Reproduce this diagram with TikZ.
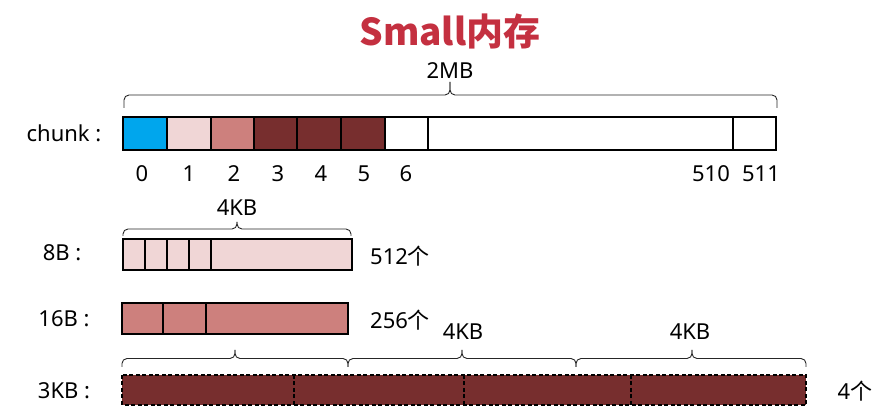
\documentclass[tikz,border=0pt]{standalone}
\usepackage{fontspec}
\setmainfont{Noto Sans}
\newfontfamily\cjk{Noto Sans CJK SC}
\definecolor{biaotihong}{RGB}{196,48,64}
\definecolor{lanse}{RGB}{0,166,237}
\definecolor{qianfen}{RGB}{240,214,214}
\definecolor{meigui}{RGB}{205,128,125}
\definecolor{zaohong}{RGB}{119,46,46}

% 画一个大括号:#1左端,#2右端,#3尖的位置,#4底边,#5尖的高度
\newcommand{\dakuohao}[5]{%
  \draw[kuohao] (#1,#4) -- (#1,{(#4+#5)/2}) -- (#3,{(#4+#5)/2}) -- (#3,#5);
  \draw[kuohao] (#3,#5) -- (#3,{(#4+#5)/2}) -- (#2,{(#4+#5)/2}) -- (#2,#4);}

\begin{document}
\begin{tikzpicture}[x=1pt,y=-1pt,
  kuohao/.style={line width=0.9pt,rounded corners=5pt,color=black!85},
  gezi/.style={draw=black,line width=1.8pt},
  xugezi/.style={draw=black,line width=1.8pt,dash pattern=on 4pt off 2.5pt},
  wenzi/.style={font=\fontsize{22}{24}\selectfont,inner sep=0pt}]

  \useasboundingbox (0,0) rectangle (889,419);

  % 标题
  \node[font=\fontsize{37}{40}\selectfont\cjk\bfseries,color=biaotihong,inner sep=0pt]
    (biaoti) at (450,31) {Small内存};

  % chunk 一行
  \node[wenzi] (chunkming) at (64,133) {chunk :};
  \node[wenzi] (erMB) at (450,71) {2MB};
  \dakuohao{124}{777}{450}{108}{82}

  \draw[gezi,fill=lanse] (123,117) rectangle (167,150);
  \draw[gezi,fill=qianfen] (167,117) rectangle (211,150);
  \draw[gezi,fill=meigui] (211,117) rectangle (254,150);
  \draw[gezi,fill=zaohong] (254,117) rectangle (385,150);
  \draw[gezi] (385,117) rectangle (776,150);
  \draw[gezi] (297,117) -- (297,150);
  \draw[gezi] (341,117) -- (341,150);
  \draw[gezi] (428,117) -- (428,150);
  \draw[gezi] (733,117) -- (733,150);

  % 页号
  \node[wenzi] (ye0) at (142,174) {0};
  \node[wenzi] (ye1) at (189,174) {1};
  \node[wenzi] (ye2) at (234,174) {2};
  \node[wenzi] (ye3) at (278,174) {3};
  \node[wenzi] (ye4) at (321,174) {4};
  \node[wenzi] (ye5) at (364,174) {5};
  \node[wenzi] (ye6) at (406,174) {6};
  \node[wenzi] (ye510) at (711,174) {510};
  \node[wenzi] (ye511) at (761,174) {511};

  % 8B 一行
  \node[wenzi] (baB) at (62,253) {8B :};
  \node[wenzi] (siKBa) at (237,208) {4KB};
  \dakuohao{123}{351}{237}{236}{222}
  \draw[gezi,fill=qianfen] (123,239) rectangle (352,270);
  \draw[gezi] (145,239) -- (145,270);
  \draw[gezi] (167,239) -- (167,270);
  \draw[gezi] (189,239) -- (189,270);
  \draw[gezi] (211,239) -- (211,270);
  \node[wenzi,anchor=west] (geshu512) at (370,256) {512{\cjk 个}};

  % 16B 一行
  \node[wenzi] (shiliuB) at (64,319) {16B :};
  \draw[gezi,fill=meigui] (122,303) rectangle (348,334);
  \draw[gezi] (163,303) -- (163,334);
  \draw[gezi] (206,303) -- (206,334);
  \node[wenzi,anchor=west] (geshu256) at (370,320) {256{\cjk 个}};

  % 3KB 一行
  \node[wenzi] (sanKB) at (64,391) {3KB :};
  \dakuohao{122}{348}{235}{367}{350}
  \dakuohao{348}{576}{462}{367}{350}
  \dakuohao{576}{806}{692}{367}{350}
  \node[wenzi] (siKBb) at (463,332) {4KB};
  \node[wenzi] (siKBc) at (690,332) {4KB};
  \draw[xugezi,fill=zaohong] (122,375) rectangle (806,405);
  \draw[xugezi] (294,375) -- (294,405);
  \draw[xugezi] (464,375) -- (464,405);
  \draw[xugezi] (631,375) -- (631,405);
  \node[wenzi] (geshu4) at (855,391) {4{\cjk 个}};

\end{tikzpicture}
\end{document}
